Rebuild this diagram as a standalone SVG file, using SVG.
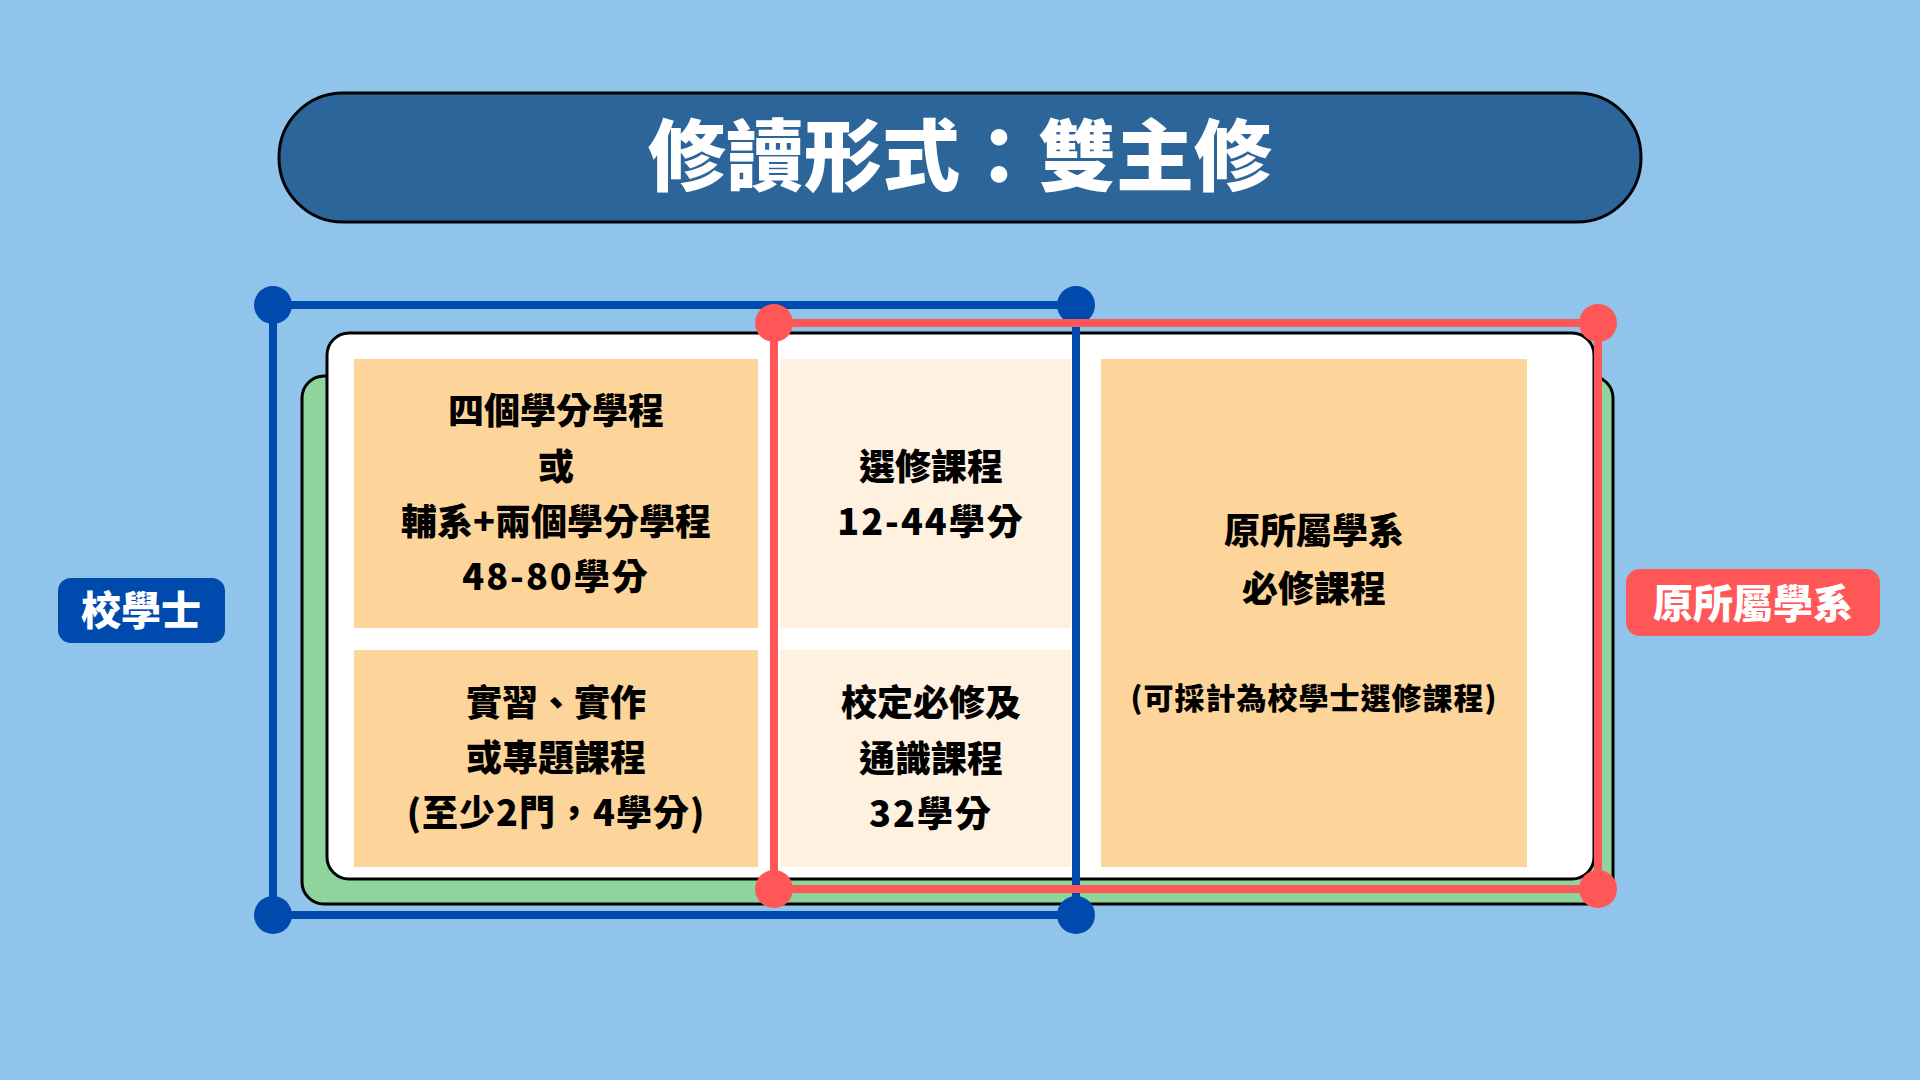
<svg xmlns="http://www.w3.org/2000/svg" width="1920" height="1080" viewBox="0 0 1920 1080">
<style>
.t{font-family:"Noto Sans CJK TC","Noto Sans CJK SC",sans-serif;font-weight:900;text-anchor:middle;dominant-baseline:central}
.cell{font-size:36px;fill:#000}
.num{letter-spacing:2px}
.w{fill:#fff}
.orange{fill:#FDD59A}
.pale{fill:#FEF1E0}
.blue{stroke:#004AAD;stroke-width:8;fill:none}
.red{stroke:#FF5757;stroke-width:8;fill:none}
</style>
<rect width="1920" height="1080" fill="#91C4EB"/>
<g id="title">
<rect x="279" y="93" width="1362" height="129" rx="64" fill="#2C6599" stroke="#000" stroke-width="3"/>
<text class="t w" x="960" y="151" font-size="78">修讀形式：雙主修</text>
</g>
<g id="back-card">
<rect x="302" y="376" width="1311" height="528" rx="22" fill="#8FD49C" stroke="#000" stroke-width="3"/>
</g>
<g id="card">
<rect x="327" y="333" width="1267" height="546" rx="22" fill="#fff" stroke="#000" stroke-width="3"/>
</g>
<g id="cell-programs">
<rect class="orange" x="354" y="359" width="404" height="269"/>
<text class="t cell" x="556" y="408">四個學分學程</text>
<text class="t cell" x="556" y="464">或</text>
<text class="t cell" x="556" y="519">輔系+兩個學分學程</text>
<text class="t cell num" x="556" y="574">48-80學分</text>
</g>
<g id="cell-practice">
<rect class="orange" x="354" y="650" width="404" height="217"/>
<text class="t cell" x="556" y="700">實習、實作</text>
<text class="t cell" x="556" y="755">或專題課程</text>
<text class="t cell" x="556" y="810" letter-spacing="1">(至少2門，4學分)</text>
</g>
<g id="cell-elective">
<rect class="pale" x="780" y="359" width="291" height="269"/>
<text class="t cell" x="931" y="464">選修課程</text>
<text class="t cell num" x="931" y="519">12-44學分</text>
</g>
<g id="cell-general">
<rect class="pale" x="780" y="650" width="291" height="217"/>
<text class="t cell" x="931" y="700">校定必修及</text>
<text class="t cell" x="931" y="756">通識課程</text>
<text class="t cell num" x="931" y="811">32學分</text>
</g>
<g id="cell-dept">
<rect class="orange" x="1101" y="359" width="426" height="508"/>
<text class="t cell" x="1314" y="528">原所屬學系</text>
<text class="t cell" x="1314" y="586">必修課程</text>
<text class="t" x="1314" y="696" font-size="30" letter-spacing="1">(可採計為校學士選修課程)</text>
</g>
<g id="connectors">
<g id="frame-school" fill="#004AAD">
<rect class="blue" x="273" y="305" width="803" height="610"/>
<circle cx="273" cy="305" r="19"/>
<circle cx="1076" cy="305" r="19"/>
<circle cx="273" cy="915" r="19"/>
<circle cx="1076" cy="915" r="19"/>
</g>
<g id="frame-dept" fill="#FF5757">
<rect class="red" x="774" y="323" width="824" height="566"/>
<circle cx="774" cy="323" r="19"/>
<circle cx="1598" cy="323" r="19"/>
<circle cx="774" cy="889" r="19"/>
<circle cx="1598" cy="889" r="19"/>
</g>
</g>
<g id="label-school">
<rect x="58" y="578" width="167" height="65" rx="13" fill="#004AAD"/>
<text class="t w" x="141" y="608" font-size="40">校學士</text>
</g>
<g id="label-dept">
<rect x="1626" y="569" width="254" height="67" rx="14" fill="#FF5757"/>
<text class="t w" x="1753" y="601" font-size="40">原所屬學系</text>
</g>
</svg>
